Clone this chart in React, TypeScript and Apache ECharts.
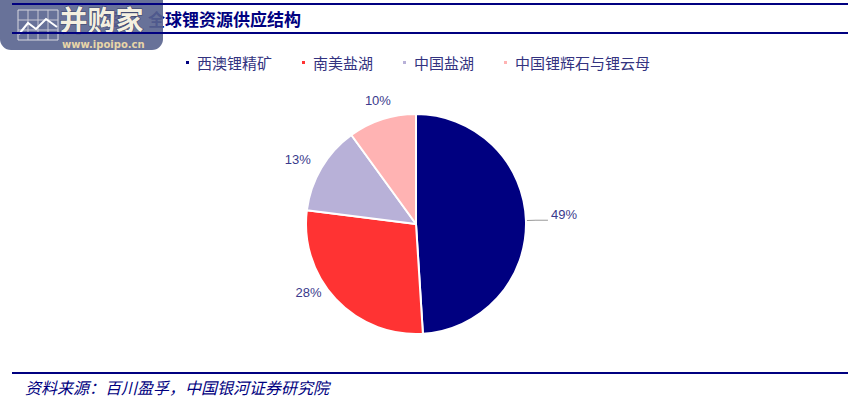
import React, { useEffect, useRef } from "react";
import * as echarts from "echarts";

const categories = ["西澳锂精矿", "南美盐湖", "中国盐湖", "中国锂辉石与锂云母"];
const values = [49, 28, 13, 10];
const colors = ["#000080", "#FF3333", "#B8B1D8", "#FFB3B3"];
const titleText = "图5：全球锂资源供应结构";
const sourceText = "资料来源：百川盈孚，中国银河证券研究院";
// small nudges for the outside labels (pixels)
const labelNudges = [
  [-2, -6],
  [-2, -14],
  [3, -3],
  [17, -9],
];

export default function App() {
  const ref = useRef<HTMLDivElement>(null);
  useEffect(() => {
    document.body.style.margin = "0";
    const chart = echarts.init(ref.current!, null, { renderer: "svg" });
    const wmZ = 100;
    chart.setOption({
      animation: false,
      backgroundColor: "#ffffff",
      legend: {
        top: 50,
        left: 179,
        icon: "rect",
        itemWidth: 5,
        itemHeight: 5,
        itemGap: 28,
        textStyle: {
          color: "#333380",
          fontSize: 15,
          fontFamily: "Noto Sans CJK SC",
          padding: [0, 0, 0, 2],
        },
        data: categories,
      },
      graphic: [
        { type: "line", shape: { x1: 12, y1: 4, x2: 848, y2: 4 }, style: { stroke: "#000080", lineWidth: 2 }, z: 200 },
        { type: "line", shape: { x1: 12, y1: 33, x2: 848, y2: 33 }, style: { stroke: "#000080", lineWidth: 2 }, z: 200 },
        {
          type: "text",
          left: 104,
          top: 10,
          style: { text: titleText, fill: "#000080", fontSize: 17, fontWeight: "bold", fontFamily: "Noto Sans CJK SC" },
        },
        {
          type: "rect",
          shape: { x: 0, y: -12, width: 163, height: 62, r: 11 },
          style: { fill: "rgba(88,99,142,0.9)" },
          z: wmZ,
        },
        {
          type: "rect",
          shape: { x: 18, y: 10, width: 40, height: 30 },
          style: { stroke: "#d8d8e0", lineWidth: 1, fill: null },
          z: wmZ + 1,
        },
        { type: "line", shape: { x1: 28, y1: 10, x2: 28, y2: 40 }, style: { stroke: "#c8c8d4", lineWidth: 1 }, z: wmZ + 1 },
        { type: "line", shape: { x1: 38, y1: 10, x2: 38, y2: 40 }, style: { stroke: "#c8c8d4", lineWidth: 1 }, z: wmZ + 1 },
        { type: "line", shape: { x1: 48, y1: 10, x2: 48, y2: 40 }, style: { stroke: "#c8c8d4", lineWidth: 1 }, z: wmZ + 1 },
        { type: "line", shape: { x1: 18, y1: 20, x2: 58, y2: 20 }, style: { stroke: "#c8c8d4", lineWidth: 1 }, z: wmZ + 1 },
        { type: "line", shape: { x1: 18, y1: 30, x2: 58, y2: 30 }, style: { stroke: "#c8c8d4", lineWidth: 1 }, z: wmZ + 1 },
        {
          type: "polyline",
          shape: { points: [[19, 34], [28, 23], [36, 29], [46, 19], [57, 27]] },
          style: { stroke: "#ffffff", lineWidth: 2, fill: null },
          z: wmZ + 2,
        },
        {
          type: "text",
          left: 59,
          top: 4,
          style: {
            text: "并购家",
            fill: "#f4f0e0",
            fontSize: 28,
            fontWeight: "bold",
            fontFamily: "Noto Sans CJK SC",
            stroke: "#3a4268",
            lineWidth: 1,
          },
          z: wmZ + 2,
        },
        {
          type: "text",
          left: 62,
          top: 39,
          style: { text: "www.ipoipo.cn", fill: "#e8d6a8", fontSize: 10, fontWeight: "bold", fontFamily: "DejaVu Sans" },
          z: wmZ + 2,
        },
        { type: "line", shape: { x1: 12, y1: 373, x2: 848, y2: 373 }, style: { stroke: "#000080", lineWidth: 2 } },
        {
          type: "text",
          left: 25,
          top: 379,
          style: { text: sourceText, fill: "#000080", fontSize: 16, fontStyle: "italic", fontFamily: "Noto Sans CJK SC" },
        },
      ],
      series: [
        {
          type: "pie",
          center: [416, 224],
          radius: 110,
          startAngle: 90,
          clockwise: true,
          itemStyle: { borderColor: "#ffffff", borderWidth: 2 },
          label: {
            show: true,
            position: "outside",
            formatter: "{d}%",
            color: "#3a3a8c",
            fontSize: 13,
            fontFamily: "Liberation Sans",
          },
          labelLayout: (params: any) => ({
            dx: labelNudges[params.dataIndex][0],
            dy: labelNudges[params.dataIndex][1],
          }),
          labelLine: { show: true, length: 10, length2: 0, lineStyle: { color: "#999999", width: 1 } },
          data: categories.map((name, i) => ({
            name,
            value: values[i],
            itemStyle: { color: colors[i] },
            labelLine: i === 0 ? { show: true, length: 10, length2: 12 } : { show: false, length: 10, length2: 0 },
          })),
        },
      ],
    });
    return () => chart.dispose();
  }, []);
  return <div ref={ref} style={{ width: 866, height: 403 }} />;
}
